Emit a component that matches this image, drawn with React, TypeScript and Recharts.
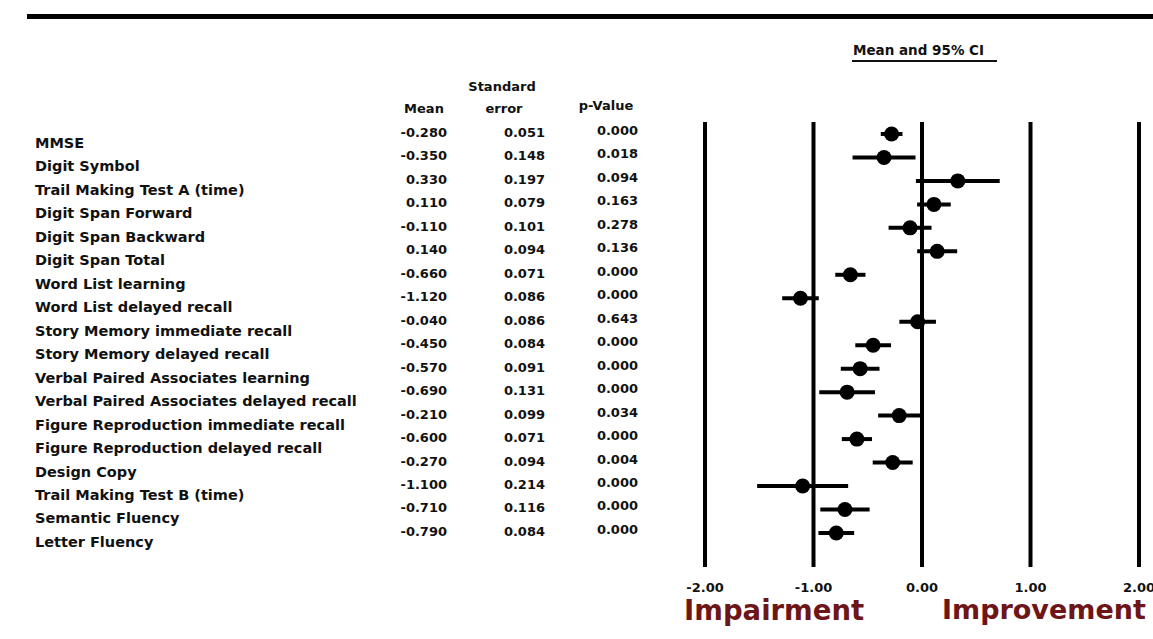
import React from 'react';
import { ScatterChart, Scatter, XAxis, YAxis, CartesianGrid, ErrorBar } from 'recharts';

const tests: string[] = [
  'MMSE',
  'Digit Symbol',
  'Trail Making Test A (time)',
  'Digit Span Forward',
  'Digit Span Backward',
  'Digit Span Total',
  'Word List learning',
  'Word List delayed recall',
  'Story Memory immediate recall',
  'Story Memory delayed recall',
  'Verbal Paired Associates learning',
  'Verbal Paired Associates delayed recall',
  'Figure Reproduction immediate recall',
  'Figure Reproduction delayed recall',
  'Design Copy',
  'Trail Making Test B (time)',
  'Semantic Fluency',
  'Letter Fluency',
];

const means: number[] = [
  -0.28, -0.35, 0.33, 0.11, -0.11, 0.14, -0.66, -1.12, -0.04, -0.45, -0.57, -0.69, -0.21, -0.6, -0.27, -1.1, -0.71, -0.79,
];

const stdErrors: number[] = [
  0.051, 0.148, 0.197, 0.079, 0.101, 0.094, 0.071, 0.086, 0.086, 0.084, 0.091, 0.131, 0.099, 0.071, 0.094, 0.214, 0.116, 0.084,
];

const pValues: string[] = [
  '0.000', '0.018', '0.094', '0.163', '0.278', '0.136', '0.000', '0.000', '0.643', '0.000', '0.000', '0.000', '0.034', '0.000', '0.004', '0.000', '0.000', '0.000',
];

const xTicks: number[] = [-2, -1, 0, 1, 2];

const data = tests.map((name, i) => ({
  idx: i,
  name,
  mean: means[i],
  se: stdErrors[i],
  p: pValues[i],
  ci: 1.96 * stdErrors[i],
}));

const FONT = '"DejaVu Sans", sans-serif';

const RowTick = (props: any) => {
  const { y, payload } = props;
  const row = data[payload.value];
  if (!row) return null;
  return (
    <g fontFamily={FONT} fontWeight="bold" fill="#111">
      <text x={35} y={y + 14} fontSize={14.5} textAnchor="start">{row.name}</text>
      <text x={447} y={y + 3} fontSize={13} textAnchor="end">{row.mean.toFixed(3)}</text>
      <text x={545} y={y + 3} fontSize={13} textAnchor="end">{row.se.toFixed(3)}</text>
      <text x={638} y={y + 1} fontSize={13} textAnchor="end">{row.p}</text>
    </g>
  );
};

const XTick = (props: any) => {
  const { x, payload } = props;
  return (
    <text x={x} y={592} fontFamily={FONT} fontWeight="bold" fontSize={13} fill="#111" textAnchor="middle">
      {Number(payload.value).toFixed(2)}
    </text>
  );
};

const Dot = (props: any) => {
  const { cx, cy } = props;
  return <circle cx={cx} cy={cy} r={7.5} fill="#000" />;
};

export default function App() {
  return (
    <div style={{ position: 'absolute', left: 0, top: 0, width: 1153, height: 639, background: '#fff', overflow: 'hidden' }}>
      <div style={{ position: 'absolute', left: 27, top: 14, width: 1126, height: 5, background: '#000' }} />
      <div style={{ position: 'absolute', left: 0, top: 0 }}>
        <ScatterChart width={1153} height={639} margin={{ top: 122, right: 14, bottom: 0, left: 0 }}>
          <CartesianGrid horizontal={false} vertical={true} stroke="#000" strokeWidth={4} />
          <XAxis
            type="number"
            dataKey="mean"
            domain={[-2, 2]}
            ticks={xTicks}
            axisLine={false}
            tickLine={false}
            tick={<XTick />}
            height={72}
            allowDataOverflow
          />
          <YAxis
            type="number"
            dataKey="idx"
            domain={[-0.51, 18.45]}
            reversed
            ticks={data.map((d) => d.idx)}
            interval={0}
            axisLine={false}
            tickLine={false}
            tick={<RowTick />}
            width={705}
            allowDataOverflow
          />
          <Scatter data={data} shape={<Dot />} isAnimationActive={false}>
            <ErrorBar dataKey="ci" direction="x" width={0} stroke="#000" strokeWidth={4} isAnimationActive={false} />
          </Scatter>
        </ScatterChart>
      </div>
      <div
        style={{
          position: 'absolute', left: 853, top: 42, fontFamily: FONT, fontWeight: 'bold', fontSize: 13.5,
          color: '#111', lineHeight: '16px', whiteSpace: 'nowrap',
        }}
      >
        Mean and 95% CI
      </div>
      <div style={{ position: 'absolute', left: 852, top: 60, width: 145, height: 2, background: '#111' }} />
      <div style={{ position: 'absolute', left: 0, top: 0, fontFamily: FONT, fontWeight: 'bold', fontSize: 13, color: '#111', lineHeight: '16px' }}>
        <div style={{ position: 'absolute', left: 424, top: 101, transform: 'translateX(-50%)', whiteSpace: 'nowrap' }}>Mean</div>
        <div style={{ position: 'absolute', left: 502, top: 79, transform: 'translateX(-50%)', whiteSpace: 'nowrap' }}>Standard</div>
        <div style={{ position: 'absolute', left: 504, top: 101, transform: 'translateX(-50%)', whiteSpace: 'nowrap' }}>error</div>
        <div style={{ position: 'absolute', left: 606, top: 98, transform: 'translateX(-50%)', whiteSpace: 'nowrap' }}>p-Value</div>
      </div>
      <div
        style={{
          position: 'absolute', left: 684, top: 598, fontFamily: FONT, fontWeight: 'bold', fontSize: 27.5,
          color: '#6e1518', lineHeight: '24px', whiteSpace: 'nowrap',
        }}
      >
        Impairment
      </div>
      <div
        style={{
          position: 'absolute', left: 942, top: 598, fontFamily: FONT, fontWeight: 'bold', fontSize: 27,
          color: '#6e1518', lineHeight: '24px', whiteSpace: 'nowrap',
        }}
      >
        Improvement
      </div>
    </div>
  );
}
